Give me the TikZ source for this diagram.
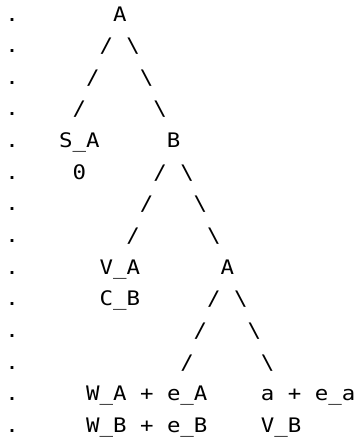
\documentclass[tikz,border=0pt]{standalone}
\usepackage{graphicx}
\usepackage{fontspec}
\newfontfamily\asciifont{DejaVu Sans Mono}
\newcommand\fsl{/}
\newcommand\bsl{\textbackslash}
\newcommand\wide[1]{\scalebox{1.12}[1]{#1}}
\tikzset{
  chr/.style={anchor=base west, inner sep=0pt, outer sep=0pt, text=black,
    font=\asciifont\fontsize{20}{20}\selectfont}
}
\begin{document}
\begin{tikzpicture}[x=1pt,y=1pt]
\useasboundingbox (0,0) rectangle (354,-440);
\foreach \l/\c/\t in {
  0/0/., 0/8/A,
  1/0/., 1/7/\fsl, 1/9/\bsl,
  2/0/., 2/6/\fsl, 2/10/\bsl,
  3/0/., 3/5/\fsl, 3/11/\bsl,
  4/0/., 4/4/S\_A, 4/12/B,
  5/0/., 5/5/0, 5/11/\fsl, 5/13/\bsl,
  6/0/., 6/10/\fsl, 6/14/\bsl,
  7/0/., 7/9/\fsl, 7/15/\bsl,
  8/0/., 8/7/V\_A, 8/16/A,
  9/0/., 9/7/C\_B, 9/15/\fsl, 9/17/\bsl,
  10/0/., 10/14/\fsl, 10/18/\bsl,
  11/0/., 11/13/\fsl, 11/19/\bsl,
  12/0/., 12/6/W\_A + e\_A, 12/19/a + e\_a,
  13/0/., 13/6/W\_B + e\_B, 13/19/V\_B}
{
  \node[chr] (n\l-\c) at ({5.4+13.45*\c}, {-21-31.65*\l}) {\wide{\t}};
}
\end{tikzpicture}
\end{document}
